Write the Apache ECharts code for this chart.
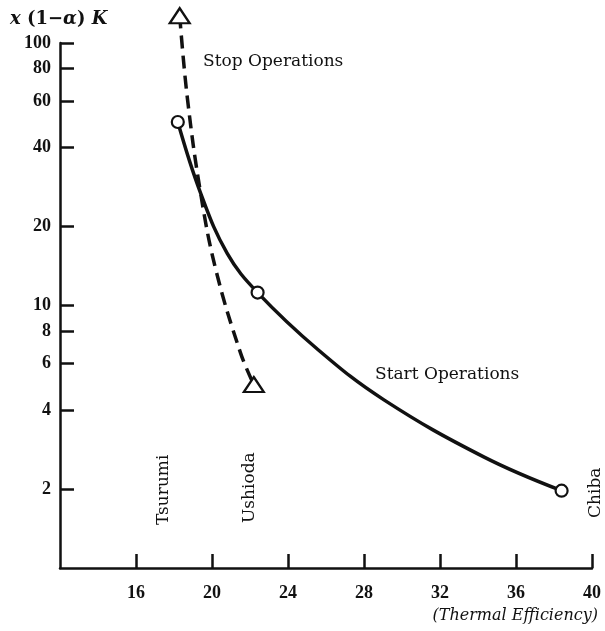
<!DOCTYPE html>
<html>
<head>
<meta charset="UTF-8">
<title>Thermal efficiency</title>
<script src="https://cdn.jsdelivr.net/npm/echarts@6/dist/echarts.min.js"></script>
<style>
  html, body { margin: 0; padding: 0; background: #fff; }
  #chart { width: 605px; height: 631px; }
</style>
</head>
<body>
<div id="chart"></div>
<script>
// x ticks (thermal efficiency) and y ticks (log scale)
var xTicks = [16, 20, 24, 28, 32, 36, 40];
var yTicks = [2, 4, 6, 8, 10, 20, 40, 60, 80, 100];

// Start Operations curve (solid), circles at the plant points
var startX = [18.2, 19.4, 20.8, 22.4, 25.6, 29.05, 34.3, 38.4];
var startY = [50, 26.8, 15.8, 11.2, 6.77, 4.37, 2.65, 1.97];
var startMark = [1, 0, 0, 1, 0, 0, 0, 1];

// Stop Operations curve (dashed), triangles at the ends
var stopX = [18.3, 18.7, 19.4, 20.2, 21.5, 22.2];
var stopY = [127, 62, 26.8, 13.7, 6.6, 5.0];
var stopMark = [1, 0, 0, 0, 0, 1];

var FONT = 'DejaVu Serif';
var INK = '#111';

function buildData(xs, ys, marks, symbol, size) {
  return xs.map(function (x, i) {
    return {
      value: [x, ys[i]],
      symbol: marks[i] ? symbol : 'none',
      symbolSize: size
    };
  });
}

var chart = echarts.init(document.getElementById('chart'));
chart.setOption({
  backgroundColor: '#fff',
  animation: false,
  grid: { left: 60, right: 13, top: 43, bottom: 63 },
  xAxis: {
    type: 'value',
    min: 12,
    max: 40,
    interval: 4,
    splitLine: { show: false },
    axisLine: { lineStyle: { color: INK, width: 2.5 } },
    axisTick: { inside: true, length: 14, customValues: xTicks, lineStyle: { color: INK, width: 2.5 } },
    axisLabel: { customValues: xTicks, margin: 16, color: INK, fontFamily: 'Liberation Serif', fontWeight: 'bold', fontSize: 18 }
  },
  yAxis: {
    type: 'log',
    logBase: 10,
    min: 1,
    max: 100,
    splitLine: { show: false },
    minorTick: { show: false },
    axisLine: { show: true, lineStyle: { color: INK, width: 2.5 } },
    axisTick: { inside: true, length: 14, customValues: yTicks, lineStyle: { color: INK, width: 2.5 } },
    axisLabel: { customValues: yTicks, margin: 9, color: INK, fontFamily: 'Liberation Serif', fontWeight: 'bold', fontSize: 18 }
  },
  series: [
    {
      name: 'Start Operations',
      type: 'line',
      smooth: 0.4,
      clip: false,
      symbol: 'none',
      showAllSymbol: true,
      data: buildData(startX, startY, startMark, 'circle', 12),
      lineStyle: { color: INK, width: 3.5 },
      itemStyle: { color: '#fff', borderColor: INK, borderWidth: 2.2 },
      z: 3
    },
    {
      name: 'Stop Operations',
      type: 'line',
      smooth: 0.4,
      clip: false,
      symbol: 'none',
      showAllSymbol: true,
      data: buildData(stopX, stopY, stopMark, 'triangle', [20, 15]),
      lineStyle: { color: INK, width: 3.5, type: [13, 7] },
      itemStyle: { color: '#fff', borderColor: INK, borderWidth: 2.2 },
      z: 4
    }
  ],
  graphic: [
    {
      type: 'text', left: 10, top: 10,
      style: {
        text: '{i|x} (1\u2212{i|\u03b1}) {i|K}',
        fill: INK, font: 'bold 18px "' + FONT + '"',
        rich: { i: { fontStyle: 'italic', fontWeight: 'bold', fontSize: 18, fontFamily: FONT, fill: INK } }
      }
    },
    { type: 'text', left: 203, top: 53, style: { text: 'Stop Operations', fill: INK, font: '17px "' + FONT + '"' } },
    { type: 'text', left: 375, top: 366, style: { text: 'Start Operations', fill: INK, font: '17px "' + FONT + '"' } },
    { type: 'text', x: 155, y: 525, rotation: Math.PI / 2, style: { text: 'Tsurumi', fill: INK, font: '17px "' + FONT + '"' } },
    { type: 'text', x: 241, y: 523, rotation: Math.PI / 2, style: { text: 'Ushioda', fill: INK, font: '17px "' + FONT + '"' } },
    { type: 'text', x: 587, y: 518, rotation: Math.PI / 2, style: { text: 'Chiba', fill: INK, font: '17px "' + FONT + '"' } },
    { type: 'text', right: 7, top: 608, style: { text: '(Thermal Efficiency)', fill: INK, font: 'italic 16px "' + FONT + '"' } }
  ]
});
</script>
</body>
</html>
